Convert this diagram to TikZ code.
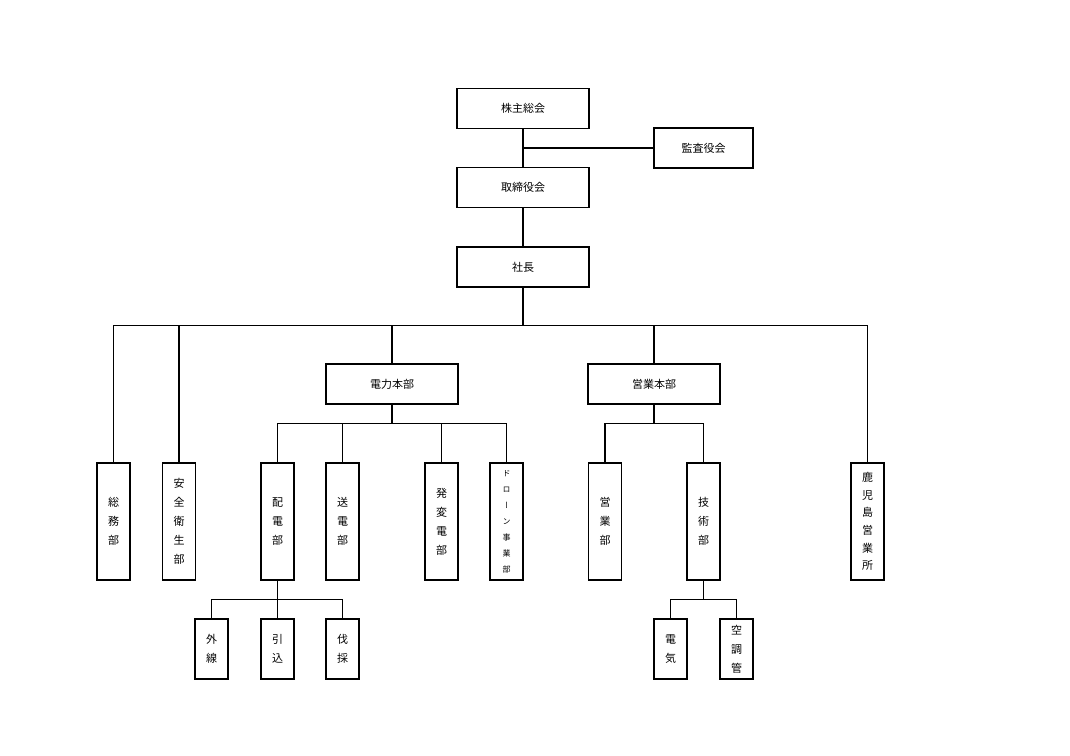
\documentclass[tikz,border=0pt]{standalone}
\usepackage{fontspec}
\newfontfamily\jp{Noto Sans CJK JP}
\newfontfamily\jpv[RawFeature=+vert]{Noto Sans CJK JP}
\usetikzlibrary{calc}
\tikzset{
    box/.style={draw, line width=1.3bp, minimum width=132bp, minimum height=40bp, inner sep=0pt, font=\jp\fontsize{11bp}{19bp}\selectfont},
    tall/.style={box, minimum width=33bp, minimum height=117bp, align=center},
    short/.style={box, minimum width=33bp, minimum height=60bp, align=center},
    wire/.style={line width=1.2bp}
}
\begin{document}
\begin{tikzpicture}[x=1bp, y=-1bp]
\useasboundingbox (0,0) rectangle (1070,756);
% top
\node[box] (kabu) at (523,108.5) {株主総会};
\node[box, minimum width=99bp] (kansa) at (703.5,148) {監査役会};
\node[box] (torishimari) at (523,187.5) {取締役会};
\node[box] (shacho) at (523,267) {社長};
\node[box] (denryoku) at (392,384) {電力本部};
\node[box] (eigyo) at (654,384) {営業本部};
% departments
\foreach \x/\p/\t in {113.5/somu/{総\\務\\部}, 179/anzen/{安\\全\\衛\\生\\部}, 277.5/haiden/{配\\電\\部}, 342.5/soden/{送\\電\\部}, 441.5/hatsuhen/{発\\変\\電\\部}, 605/eigyobu/{営\\業\\部}, 703.5/gijutsu/{技\\術\\部}}{
    \node[tall] (\p) at (\x,521.5) {\t};
}
\node[tall, font=\jpv\fontsize{8bp}{16bp}\selectfont] (drone) at (506.5,521.5) {ド\\ロ\\ー\\ン\\事\\業\\部};
\node[tall, font=\jp\fontsize{11bp}{17.6bp}\selectfont] (kagoshima) at (867.5,521.5) {鹿\\児\\島\\営\\業\\所};
% sections
\foreach \x/\p/\t in {211.5/gaisen/{外\\線}, 277.5/hikikomi/{引\\込}, 342.5/bassai/{伐\\採}, 670.5/denki/{電\\気}, 736.5/kucho/{空\\調\\管}}{
    \node[short] (\p) at (\x,649) {\t};
}
% lines
\draw[wire] (kabu) -- (torishimari);
\draw[wire] (kansa.west) -- (kansa.west -| kabu.south);
\draw[wire] (torishimari) -- (shacho);
\draw[wire] (shacho.south) -- ++(0,38) coordinate (bus);
\foreach \p in {somu,anzen,denryoku,eigyo,kagoshima}{
    \draw[wire] (\p.north) |- (bus);
}
\draw[wire] (denryoku.south) -- ++(0,19) coordinate (dbus);
\foreach \p in {haiden,soden,hatsuhen,drone}{
    \draw[wire] (\p.north) |- (dbus);
}
\draw[wire] (eigyo.south) -- ++(0,19) coordinate (ebus);
\foreach \p in {eigyobu,gijutsu}{
    \draw[wire] (\p.north) |- (ebus);
}
\draw[wire] (haiden.south) -- ++(0,19) coordinate (hbus);
\foreach \p in {gaisen,hikikomi,bassai}{
    \draw[wire] (\p.north) |- (hbus);
}
\draw[wire] (gijutsu.south) -- ++(0,19) coordinate (gbus);
\foreach \p in {denki,kucho}{
    \draw[wire] (\p.north) |- (gbus);
}
\end{tikzpicture}
\end{document}
